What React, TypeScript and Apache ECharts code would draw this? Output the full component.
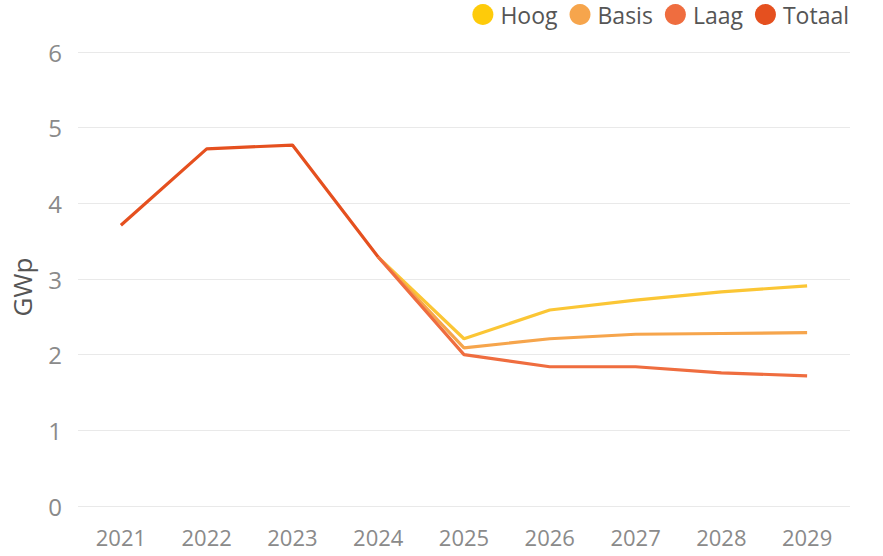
import React, { useEffect, useRef } from "react";
import * as echarts from "echarts";

const years = ["2021", "2022", "2023", "2024", "2025", "2026", "2027", "2028", "2029"];
const hoog = [null, null, null, 3.29, 2.21, 2.59, 2.72, 2.83, 2.91];
const basis = [null, null, null, 3.29, 2.09, 2.21, 2.27, 2.28, 2.29];
const laag = [null, null, null, 3.29, 2.0, 1.84, 1.84, 1.76, 1.72];
const totaal = [3.71, 4.72, 4.77, 3.29, null, null, null, null, null];

const colors = ["#FECB0A", "#F6A54C", "#EF6D3F", "#E5501F"];
const lineColors = ["#FBC635", "#F6A54C", "#EF6D3F", "#E5501F"];

export default function App() {
  const ref = useRef<HTMLDivElement>(null);
  useEffect(() => {
    if (!ref.current) return;
    const chart = echarts.init(ref.current, null, { renderer: "svg" });
    const font = "'Open Sans', Lato, sans-serif";
    const mk = (name: string, data: (number | null)[], i: number, z: number) => ({
      name,
      type: "line",
      data,
      symbol: "none",
      z,
      lineStyle: { color: lineColors[i], width: 3.2 },
      itemStyle: { color: colors[i] },
      connectNulls: false,
    });
    chart.setOption({
      animation: false,
      color: colors,
      textStyle: { fontFamily: font },
      legend: {
        top: -2,
        right: 29,
        icon: "circle",
        itemWidth: 21,
        itemHeight: 21,
        itemGap: 12,
        textStyle: { fontSize: 23, color: "#555555", fontFamily: font, padding: [0, 0, 0, 2] },
        data: ["Hoog", "Basis", "Laag", "Totaal"],
      },
      grid: { left: 78, right: 33, top: 52, bottom: 50, containLabel: false },
      xAxis: {
        type: "category",
        data: years,
        boundaryGap: true,
        axisLine: { show: false },
        axisTick: { show: false },
        axisLabel: { fontSize: 22, color: "#8a8a8a", margin: 20, fontFamily: font },
      },
      yAxis: {
        type: "value",
        min: 0,
        max: 6,
        interval: 1,
        name: "GWp",
        nameLocation: "middle",
        nameGap: 43,
        nameTextStyle: { fontSize: 26, color: "#555555", fontFamily: font, padding: [0, 16, 0, 0] },
        axisLine: { show: false },
        axisTick: { show: false },
        axisLabel: { fontSize: 24, color: "#8a8a8a", margin: 16, fontFamily: font },
        splitLine: { lineStyle: { color: "#e9e9e9", width: 1 } },
      },
      series: [
        mk("Hoog", hoog, 0, 2),
        mk("Basis", basis, 1, 3),
        mk("Laag", laag, 2, 4),
        mk("Totaal", totaal, 3, 5),
      ],
    });
    return () => chart.dispose();
  }, []);
  return <div ref={ref} style={{ width: 883, height: 556, position: "absolute", left: 0, top: 0, background: "#fff" }} />;
}
